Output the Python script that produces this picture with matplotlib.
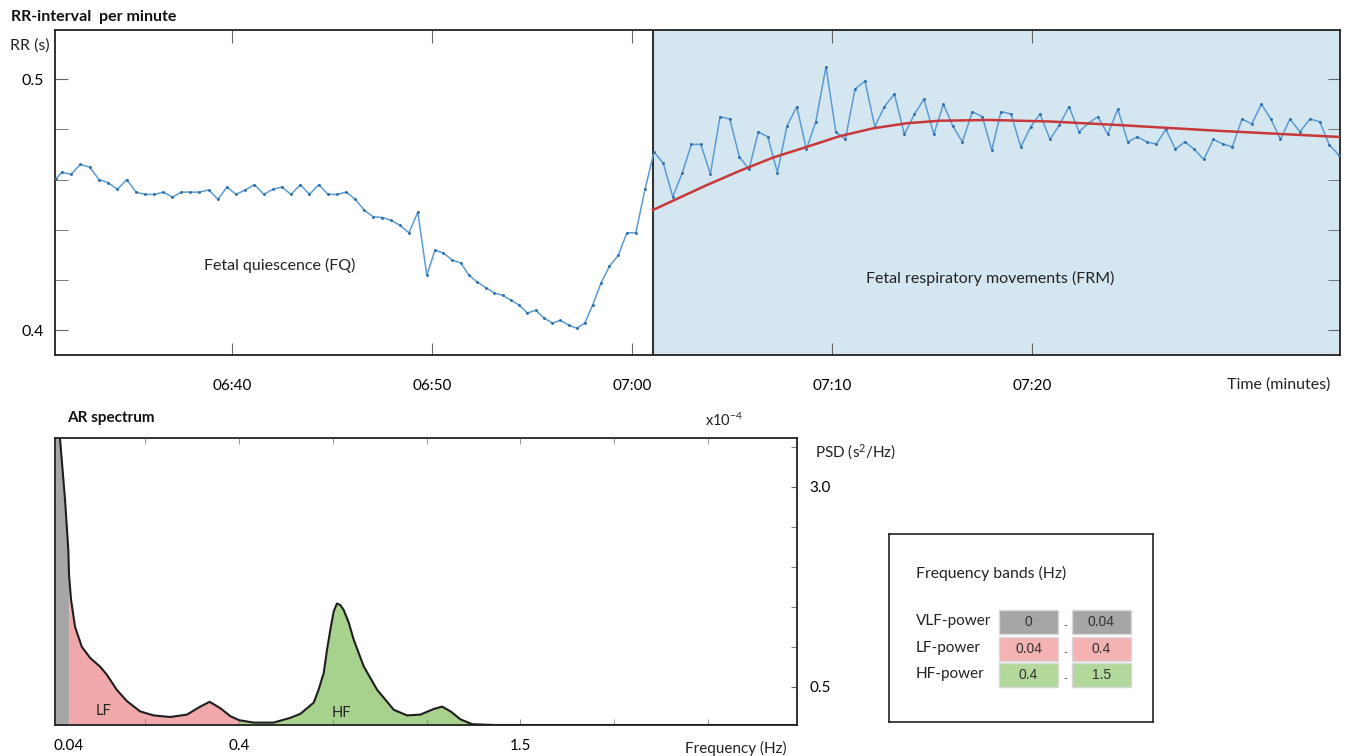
import matplotlib
matplotlib.use("Agg")
import matplotlib.pyplot as plt
import numpy as np
from matplotlib.patches import Rectangle

plt.rcParams['font.family'] = ['Lato', 'DejaVu Sans']
plt.rcParams['mathtext.default'] = 'regular'

# RR-interval series (time in minutes after 06:00, RR in seconds)
rr_time = [31.2, 31.49, 31.95, 32.42, 32.89, 33.35, 33.8, 34.27, 34.74, 35.2,
           35.65, 36.12, 36.57, 37.02, 37.47, 37.92, 38.37, 38.84, 39.29, 39.75,
           40.2, 40.67, 41.12, 41.59, 42.04, 42.49, 42.95, 43.42, 43.87, 44.34,
           44.8, 45.25, 45.72, 46.17, 46.62, 47.07, 47.52, 47.95, 48.4, 48.85,
           49.29, 49.74, 50.15, 50.57, 51.02, 51.44, 51.85, 52.27, 52.69, 53.12,
           53.54, 53.95, 54.37, 54.77, 55.19, 55.6, 56.02, 56.42, 56.84, 57.24,
           57.64, 58.04, 58.45, 58.87, 59.32, 59.74, 60.19, 60.65, 61.1, 61.57,
           62.04, 62.52, 62.97, 63.44, 63.92, 64.4, 64.89, 65.37, 65.85, 66.32,
           66.79, 67.27, 67.75, 68.24, 68.72, 69.19, 69.7, 70.19, 70.67, 71.15,
           71.65, 72.14, 72.62, 73.12, 73.62, 74.12, 74.6, 75.09, 75.57, 76.04,
           76.52, 77.02, 77.52, 77.99, 78.45, 78.95, 79.44, 79.94, 80.4, 80.9,
           81.37, 81.85, 82.35, 82.82, 83.29, 83.79, 84.29, 84.79, 85.27, 85.74,
           86.22, 86.69, 87.17, 87.65, 88.12, 88.59, 89.07, 89.55, 90.02, 90.5,
           90.99, 91.47, 91.95, 92.42, 92.9, 93.4, 93.9, 94.39, 94.87, 95.35]
rr_value = [0.4603, 0.4629, 0.4621, 0.466, 0.4649, 0.460, 0.4588, 0.4561, 0.460, 0.455,
            0.4541, 0.4541, 0.455, 0.453, 0.455, 0.455, 0.455, 0.4559, 0.4521, 0.457,
            0.4541, 0.4559, 0.458, 0.4541, 0.4561, 0.457, 0.4541, 0.458, 0.4541, 0.458,
            0.4541, 0.4541, 0.455, 0.4521, 0.4477, 0.4452, 0.4449, 0.4438, 0.4418, 0.4388,
            0.4471, 0.4219, 0.4319, 0.4308, 0.4279, 0.4268, 0.4219, 0.4192, 0.417, 0.4149,
            0.4139, 0.412, 0.410, 0.4069, 0.408, 0.4049, 0.4029, 0.404, 0.402, 0.4009,
            0.4029, 0.4102, 0.4188, 0.4255, 0.4299, 0.4388, 0.4388, 0.4561, 0.471, 0.4664,
            0.4531, 0.4628, 0.474, 0.474, 0.4622, 0.485, 0.4841, 0.469, 0.4641, 0.479,
            0.477, 0.4628, 0.4813, 0.489, 0.472, 0.483, 0.5049, 0.479, 0.476, 0.496,
            0.4992, 0.481, 0.489, 0.494, 0.478, 0.486, 0.492, 0.478, 0.490, 0.4813,
            0.475, 0.487, 0.485, 0.4717, 0.487, 0.4861, 0.473, 0.481, 0.4861, 0.476,
            0.4817, 0.489, 0.479, 0.4824, 0.485, 0.478, 0.488, 0.475, 0.477, 0.475,
            0.4741, 0.480, 0.4721, 0.475, 0.472, 0.468, 0.476, 0.4741, 0.473, 0.4841,
            0.4821, 0.490, 0.484, 0.476, 0.4841, 0.479, 0.4841, 0.483, 0.4737, 0.4697]

# trend during FRM
trend_time = [61.05, 63.74, 65.4, 67.07, 68.74, 70.4, 72.07, 73.74, 75.4, 77.9,
              80.9, 84.3, 89.3, 95.5]
trend_value = [0.4479, 0.4578, 0.4635, 0.4688, 0.4730, 0.4773, 0.4804, 0.4824, 0.4834, 0.4837,
               0.4831, 0.4817, 0.4794, 0.4769]

frm_start = 61.05
time_ticks = [40, 50, 60, 70, 80]
time_labels = ['06:40', '06:50', '07:00', '07:10', '07:20']

# AR spectrum (Hz, x1e-4 s^2/Hz)
freq = np.array([0.0, 0.0143, 0.0286, 0.038, 0.04, 0.0442, 0.0527, 0.0669, 0.0845, 0.1057,
                 0.1199, 0.141, 0.1622, 0.1904, 0.2186, 0.254, 0.2894, 0.3175, 0.3373, 0.36,
                 0.3812, 0.4, 0.456, 0.534, 0.6, 0.639, 0.691, 0.71, 0.73, 0.743, 0.756,
                 0.769, 0.782, 0.795, 0.808, 0.828, 0.847, 0.887, 0.939, 1.004, 1.056,
                 1.108, 1.16, 1.193, 1.226, 1.265, 1.311, 1.4, 1.5, 2.6])
psd = np.array([4.6, 3.6, 2.84, 2.21, 1.9, 1.59, 1.25, 1.0, 0.86, 0.75,
                0.65, 0.46, 0.32, 0.19, 0.14, 0.12, 0.15, 0.25, 0.31, 0.23,
                0.13, 0.08, 0.05, 0.05, 0.11, 0.16, 0.30, 0.46, 0.67, 0.96, 1.21,
                1.44, 1.54, 1.52, 1.46, 1.30, 1.09, 0.75, 0.46, 0.21, 0.14,
                0.15, 0.22, 0.25, 0.19, 0.09, 0.03, 0.02, 0.02, 0.02])

band_names = ['VLF-power', 'LF-power', 'HF-power']
band_low = [0, 0.04, 0.4]
band_high = [0.04, 0.4, 1.5]
band_low_txt = ['0', '0.04', '0.4']
band_high_txt = ['0.04', '0.4', '1.5']
band_fill = ['#a6a6a6', '#f0a8aa', '#a9d18e']
band_cell = ['#a6a6a6', '#f4b3b3', '#b2d89c']

W, H = 1346, 756
fig = plt.figure(figsize=(W / 100, H / 100), dpi=100)


def box(x0, y0, x1, y1):
    return [x0 / W, 1 - y1 / H, (x1 - x0) / W, (y1 - y0) / H]


def ftext(x, y, s, **kw):
    fig.text(x / W, 1 - y / H, s, va='center', **kw)


# ---- top panel ----
ax = fig.add_axes(box(55, 30, 1340, 355))
ax.set_xlim(31.15, 95.4)
ax.set_ylim(0.3902, 0.5195)
ax.axvspan(frm_start, 95.4, color='#d4e6ef', zorder=0)
ax.axvline(frm_start, color='#333333', lw=1.5, zorder=1)
ax.plot(rr_time, rr_value, color='#5b9bd5', lw=1.1, marker='o', ms=1.1,
        mfc='#2f6ea6', mec='#2f6ea6', zorder=3)
ax.plot(trend_time, trend_value, color='#c8383a', lw=1.8, zorder=4,
        solid_joinstyle='round')

ax.set_xticks(time_ticks, labels=time_labels)
ax.set_yticks([0.4, 0.5], labels=['0.4', '0.5'])
ax.set_yticks([0.42, 0.44, 0.46, 0.48], minor=True)
ax.tick_params(axis='x', direction='in', top=True, bottom=True, length=9,
               color='#666666', pad=17, labelsize=11)
ax.tick_params(axis='y', which='both', direction='in', left=True, right=True,
               length=9, color='#666666', pad=8, labelsize=11.5)
for s in ax.spines.values():
    s.set_color('#222222')
    s.set_linewidth(1.3)

ax.text(0.175, 0.277, 'Fetal quiescence (FQ)', transform=ax.transAxes,
        ha='center', va='center', fontsize=11.5, color='#222222')
ax.text(0.7276, 0.237, 'Fetal respiratory movements (FRM)', transform=ax.transAxes,
        ha='center', va='center', fontsize=11.5, color='#222222')

ftext(11, 17, 'RR-interval  per minute', fontsize=11.5, fontweight='bold', color='#111111')
ftext(10, 46, 'RR (s)', fontsize=11.5, color='#222222')
ftext(1330, 385, 'Time (minutes)', fontsize=11.5, color='#222222', ha='right')

# ---- bottom panel ----
band_f = [0, 0.04, 0.4, 1.5, 2.6]
band_w = [0, 14, 184, 465, 745]


def fwd(f):
    return np.interp(f, band_f, band_w)


def inv(p):
    return np.interp(p, band_w, band_f)


ax2 = fig.add_axes(box(55, 438, 797, 725))
ax2.set_xscale('function', functions=(fwd, inv))
ax2.set_xlim(0, 2.584)
ax2.set_ylim(0.02, 3.61)

for lo, hi, c in zip(band_low, band_high, band_fill):
    m = (freq >= lo) & (freq <= hi)
    ax2.fill_between(freq[m], 0, psd[m], color=c, lw=0, zorder=1)
ax2.plot(freq, psd, color='#1e1e1e', lw=1.5, zorder=3, solid_joinstyle='round')

ax2.set_xticks([0.04, 0.4, 1.5], labels=['0.04', '0.4', '1.5'])
ax2.set_xticks(inv(np.arange(90, 700, 93.7)), minor=True)
ax2.tick_params(axis='x', which='major', length=0, pad=10, labelsize=11)
ax2.tick_params(axis='x', which='minor', direction='in', top=True, bottom=True,
                length=4, color='#888888')
ax2.yaxis.tick_right()
ax2.set_yticks([0.5, 3.0], labels=['0.5', '3.0'])
ax2.set_yticks([1.0, 1.5, 2.0, 2.5, 3.5], minor=True)
ax2.tick_params(axis='y', which='both', direction='in', left=False, right=True,
                length=4, color='#666666', pad=9, labelsize=11)
for s in ax2.spines.values():
    s.set_color('#222222')
    s.set_linewidth(1.3)

ax2.text(0.112, 0.19, 'LF', ha='center', va='center', fontsize=10.5, color='#222222')
ax2.text(0.799, 0.175, 'HF', ha='center', va='center', fontsize=10.5, color='#222222')

ftext(67, 418, 'AR spectrum', fontsize=11, fontweight='bold', color='#111111')
ftext(705, 420, 'x10$^{-4}$', fontsize=10.5, color='#222222')
ftext(815, 452, 'PSD (s$^{2}$/Hz)', fontsize=11, color='#222222')
ftext(787, 748, 'Frequency (Hz)', fontsize=11, color='#222222', ha='right')

# ---- legend box ----
lg = fig.add_axes(box(889, 534, 1153, 722))
lg.set_xlim(0, 264)
lg.set_ylim(188, 0)
lg.set_xticks([])
lg.set_yticks([])
for s in lg.spines.values():
    s.set_color('#222222')
    s.set_linewidth(1.2)
lg.text(27, 39, 'Frequency bands (Hz)', va='center', fontsize=11.3, color='#222222')
row_y = [75, 102, 128]
for i, name in enumerate(band_names):
    y0 = row_y[i]
    lg.text(27, y0 + 12, name, va='center', fontsize=11, color='#222222')
    for x0, txt in [(110, band_low_txt[i]), (183, band_high_txt[i])]:
        lg.add_patch(Rectangle((x0, y0 + 1), 59, 24, facecolor=band_cell[i],
                               edgecolor='#d9d9d9', lw=1))
        lg.text(x0 + 29.5, y0 + 13, txt, ha='center', va='center', fontsize=10,
                color='#333333', family=['Liberation Sans', 'DejaVu Sans'])
    lg.text(176.5, y0 + 16, '-', ha='center', va='center', fontsize=8,
            color='#444444', family=['Liberation Sans', 'DejaVu Sans'])

fig.savefig('out.png', dpi=100)
